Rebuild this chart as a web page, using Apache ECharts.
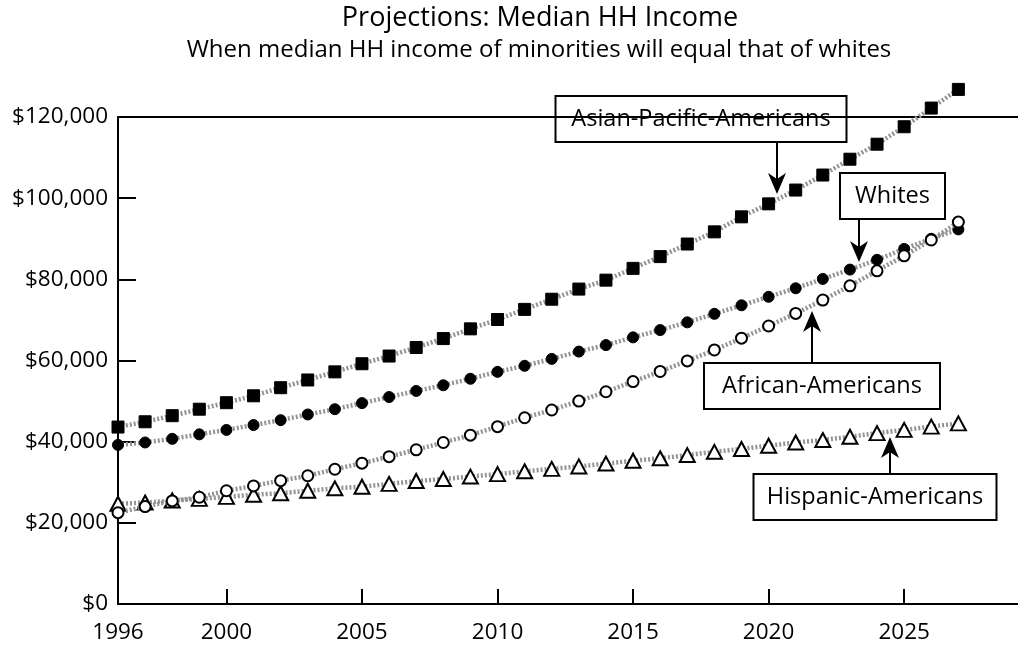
<!DOCTYPE html>
<html>
<head>
<meta charset="utf-8">
<script src="https://cdn.jsdelivr.net/npm/echarts@6/dist/echarts.min.js"></script>
<style>
html,body{margin:0;padding:0;background:#fff;}
#chart{width:1018px;height:645px;}
</style>
</head>
<body>
<div id="chart"></div>
<script>
// ---- data (values in dollars) ----
const years = [1996,1997,1998,1999,2000,2001,2002,2003,2004,2005,2006,2007,2008,2009,2010,2011,2012,2013,2014,2015,2016,2017,2018,2019,2020,2021,2022,2023,2024,2025,2026,2027];
const asianPacific = [43600,44900,46400,48000,49600,51300,53300,55200,57200,59200,61100,63200,65400,67800,70100,72600,75100,77600,79800,82700,85600,88700,91700,95400,98600,102000,105700,109600,113300,117600,122200,126800];
const whites = [39200,39800,40700,41800,42900,44100,45300,46700,48000,49500,51000,52500,53900,55500,57200,58700,60400,62200,63800,65700,67500,69400,71500,73600,75700,77800,80100,82400,84800,87500,90000,92300];
const africanAm = [22500,24000,25400,26300,27900,29100,30400,31600,33200,34700,36300,38000,39800,41600,43700,45900,47800,50000,52300,54800,57300,59900,62600,65500,68500,71600,74900,78400,82100,85800,89700,94100];
const hispanicAm = [24700,25000,25500,25900,26400,26900,27300,27900,28500,28900,29600,30300,30800,31400,32000,32700,33300,33900,34600,35300,35900,36700,37500,38200,39000,39800,40400,41200,42100,42900,43700,44500];
const xTickYears = [1996,2000,2005,2010,2015,2020,2025];
const titleText = 'Projections: Median HH Income';
const subtitleText = 'When median HH income of minorities will equal that of whites';
const seriesNames = ['Asian-Pacific-Americans','Whites','African-Americans','Hispanic-Americans'];

const FONT = '"Open Sans", "DejaVu Sans", sans-serif';
const pair = arr => years.map((y,i)=>[y,arr[i]]);
const lineStyle = {color:'#939393', width:4.5, type:[2,2]};

const chart = echarts.init(document.getElementById('chart'), null, {renderer:'canvas'});

function box(cx, cy, w, h, text){
  return {
    type:'group', x:cx, y:cy, z:100,
    children:[
      {type:'rect', shape:{x:-w/2, y:-h/2, width:w, height:h}, style:{fill:'#fff', stroke:'#000', lineWidth:2}},
      {type:'text', style:{x:0, y:0, text:text, fill:'#000', font:'23.5px '+FONT, align:'center', verticalAlign:'middle'}}
    ]
  };
}
function arrow(x, y1, y2){
  const dir = y2 > y1 ? 1 : -1;
  const baseY = y2 - dir*21, notchY = y2 - dir*15;
  return {
    type:'group', z:101,
    children:[
      {type:'line', shape:{x1:x, y1:y1, x2:x, y2:notchY}, style:{stroke:'#000', lineWidth:2}},
      {type:'polygon', shape:{points:[[x,y2],[x-9,baseY],[x,notchY],[x+9,baseY]]}, style:{fill:'#000'}}
    ]
  };
}

const option = {
  backgroundColor:'#fff',
  animation:false,
  grid:{left:118, right:0, top:117, bottom:41, containLabel:false},
  xAxis:[{
    type:'value', min:1996, max:2029.2,
    axisLine:{show:true, lineStyle:{color:'#000', width:2}},
    axisTick:{show:true, inside:true, length:15, customValues:xTickYears.slice(1), lineStyle:{color:'#000', width:2}},
    axisLabel:{show:true, customValues:xTickYears, formatter:v=>String(v), color:'#000', fontSize:22.5, fontFamily:FONT, margin:17, hideOverlap:false},
    splitLine:{show:false}
  },{
    type:'value', min:1996, max:2029.2, position:'top',
    axisLine:{show:true, onZero:false, lineStyle:{color:'#000', width:2}},
    axisTick:{show:false}, axisLabel:{show:false}, splitLine:{show:false}
  }],
  yAxis:{
    type:'value', min:0, max:120000, interval:20000,
    axisLine:{show:true, lineStyle:{color:'#000', width:2}},
    axisTick:{show:true, inside:true, length:18, lineStyle:{color:'#000', width:2}},
    axisLabel:{color:'#000', fontSize:22.5, fontFamily:FONT, margin:10,
      formatter:v=>'$'+v.toLocaleString('en-US')},
    splitLine:{show:false}
  },
  series:[
    {name:seriesNames[0], type:'line', clip:false, data:pair(asianPacific), symbol:'rect', symbolSize:12,
      itemStyle:{color:'#000', borderColor:'#000'}, lineStyle:lineStyle, z:3},
    {name:seriesNames[1], type:'line', clip:false, data:pair(whites), symbol:'circle', symbolSize:11,
      itemStyle:{color:'#000', borderColor:'#000'}, lineStyle:lineStyle, z:3},
    {name:seriesNames[2], type:'line', clip:false, data:pair(africanAm), symbol:'circle', symbolSize:11, showAllSymbol:true,
      itemStyle:{color:'#fff', borderColor:'#000', borderWidth:2}, lineStyle:lineStyle, z:4},
    {name:seriesNames[3], type:'line', clip:false, data:pair(hispanicAm), symbol:'triangle', symbolSize:[15,14], showAllSymbol:true,
      itemStyle:{color:'#fff', borderColor:'#000', borderWidth:2}, lineStyle:lineStyle, z:3}
  ],
  graphic:[
    {type:'text', z:100, style:{x:540, y:18, text:titleText, fill:'#000', font:'27px '+FONT, align:'center', verticalAlign:'middle'}},
    {type:'text', z:100, style:{x:539, y:50, text:subtitleText, fill:'#000', font:'24px '+FONT, align:'center', verticalAlign:'middle'}},
    box(701, 119, 291, 46, seriesNames[0]),
    arrow(777, 142, 194),
    box(892.5, 196, 105, 46, seriesNames[1]),
    arrow(859, 219, 262),
    box(822, 386, 236, 46, seriesNames[2]),
    arrow(812, 363, 311),
    box(875, 497, 243, 46, seriesNames[3]),
    arrow(890, 474, 437)
  ]
};
chart.setOption(option);
</script>
</body>
</html>
